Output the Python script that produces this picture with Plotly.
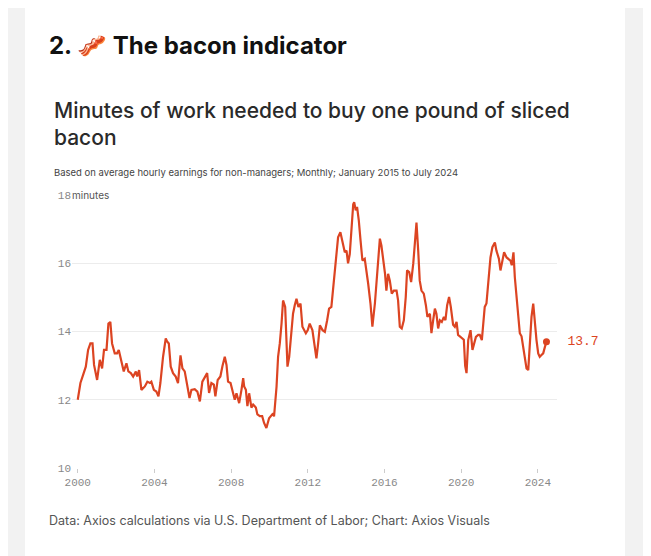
import plotly.graph_objects as go

# years since 2000 (decimal) and minutes of work for one pound of bacon
years_offset = [
    0.00, 0.14, 0.28, 0.42, 0.54, 0.66, 0.77, 0.85, 1.01, 1.15, 1.27, 1.37, 1.50, 1.60, 1.70, 1.79,
    1.93, 2.05, 2.14, 2.24, 2.40, 2.54, 2.64, 2.77, 2.89, 3.03, 3.10, 3.20, 3.32, 3.50, 3.63, 3.76,
    3.84, 3.97, 4.10, 4.21, 4.31, 4.45, 4.59, 4.66, 4.75, 4.85, 4.97, 5.11, 5.23, 5.36, 5.46, 5.58,
    5.70, 5.83, 5.93, 6.10, 6.24, 6.37, 6.50, 6.64, 6.75, 6.85, 6.97, 7.10, 7.18, 7.30, 7.44, 7.55,
    7.67, 7.76, 7.84, 7.97, 8.07, 8.19, 8.28, 8.42, 8.54, 8.63, 8.68, 8.77, 8.85, 8.94, 9.06, 9.15,
    9.29, 9.37, 9.50, 9.62, 9.72, 9.84, 9.98, 10.10, 10.19, 10.24, 10.37, 10.45, 10.54, 10.63, 10.71,
    10.82, 10.94, 11.03, 11.15, 11.23, 11.32, 11.41, 11.51, 11.62, 11.72, 11.81, 11.90,
    12.00, 12.10, 12.24, 12.37, 12.45, 12.54, 12.63, 12.77, 12.89, 13.01, 13.11, 13.23, 13.32, 13.46,
    13.58, 13.70, 13.84, 13.93, 14.02, 14.10, 14.19, 14.28, 14.37, 14.42, 14.50, 14.57, 14.66, 14.75,
    14.85, 14.97, 15.06, 15.15, 15.27, 15.37, 15.50, 15.58, 15.69, 15.76, 15.84, 15.93, 16.03, 16.10,
    16.19, 16.28, 16.38, 16.49, 16.63, 16.71, 16.80, 16.90, 17.01, 17.11, 17.18, 17.29, 17.39, 17.50,
    17.60, 17.67, 17.76, 17.84, 17.93, 18.05, 18.16, 18.24, 18.37, 18.45, 18.54, 18.63, 18.71, 18.80,
    18.89, 18.99, 19.10, 19.18, 19.27, 19.37, 19.46, 19.58, 19.67, 19.76, 19.84, 19.93, 20.07, 20.14,
    20.21, 20.28, 20.37, 20.49, 20.59, 20.68, 20.77, 20.89, 20.97, 21.08, 21.15, 21.23, 21.32, 21.43,
    21.53, 21.63, 21.76, 21.84, 21.97, 22.05, 22.16, 22.24, 22.37, 22.47, 22.57, 22.64, 22.73, 22.80,
    22.89, 22.97, 23.06, 23.15, 23.23, 23.32, 23.41, 23.50, 23.58, 23.67, 23.76, 23.84, 23.93, 24.02,
    24.10, 24.19, 24.28, 24.37, 24.45,
]
minutes = [
    12.00, 12.49, 12.73, 12.97, 13.46, 13.65, 13.65, 13.02, 12.58, 13.17, 12.92, 13.46, 13.46, 14.23, 14.28, 13.65,
    13.36, 13.36, 13.46, 13.21, 12.83, 13.07, 12.83, 12.78, 12.68, 12.83, 12.68, 12.87, 12.29, 12.39, 12.53, 12.49,
    12.53, 12.29, 12.24, 12.10, 12.49, 13.26, 13.80, 13.71, 13.65, 12.97, 12.78, 12.68, 12.49, 13.30, 12.92, 12.83,
    12.49, 12.05, 12.29, 12.31, 12.24, 11.95, 12.53, 12.68, 12.78, 12.20, 12.49, 12.44, 12.10, 12.58, 12.68, 12.99,
    13.26, 13.02, 12.53, 12.49, 12.24, 12.00, 12.19, 11.90, 12.29, 12.63, 12.39, 12.29, 11.81, 12.19, 11.77, 11.86,
    11.77, 11.57, 11.52, 11.52, 11.32, 11.17, 11.46, 11.55, 11.60, 11.51, 12.38, 13.26, 13.65, 14.23, 14.91,
    14.72, 12.97, 13.26, 14.04, 14.52, 14.77, 14.96, 14.72, 14.82, 14.14, 14.04, 13.95,
    14.04, 14.23, 14.04, 13.46, 13.21, 13.65, 14.18, 14.04, 13.99, 14.33, 14.67, 14.72, 15.20, 16.00,
    16.76, 16.91, 16.56, 16.32, 16.37, 16.00, 16.27, 16.95, 17.73, 17.79, 17.55, 17.65, 17.26, 16.68,
    16.08, 16.13, 15.79, 15.40, 14.82, 14.14, 14.82, 15.40, 16.27, 16.72, 16.52, 16.17, 15.69, 15.20,
    15.69, 15.49, 15.11, 15.20, 15.20, 14.91, 14.14, 14.09, 14.33, 15.01, 15.79, 15.74, 15.45, 15.98,
    16.85, 17.19, 16.37, 15.49, 15.20, 15.11, 14.77, 14.43, 14.52, 13.95, 14.33, 14.67, 14.52, 14.09,
    14.33, 14.28, 14.43, 14.33, 14.77, 15.01, 14.72, 14.20, 14.14, 14.28, 13.90, 13.86, 13.81, 13.76,
    12.99, 12.78, 13.75, 14.04, 13.46, 13.65, 13.84, 13.90, 13.90, 13.75, 14.23, 14.72, 14.82, 15.49,
    16.17, 16.47, 16.61, 16.37, 16.13, 15.79, 16.08, 16.32, 16.17, 16.13, 16.08, 15.94, 16.32, 15.59,
    15.01, 14.52, 13.95, 13.86, 13.57, 13.26, 12.92, 12.87, 13.75, 14.43, 14.82, 14.23, 13.75, 13.36,
    13.26, 13.31, 13.36, 13.55, 13.70,
]
year = [2000 + o for o in years_offset]
x_ticks = [2000, 2004, 2008, 2012, 2016, 2020, 2024]
y_ticks = [10, 12, 14, 16, 18]

red = "#dc4422"
mono = "Liberation Mono, Courier New, monospace"
sans = "Inter, Roboto, sans-serif"

# the page adds an 8px body margin, so shift everything up/left by that
OFF = 8
L, R, T, B = 72 - OFF, 94 + OFF, 195 - OFF, 88 + OFF

fig = go.Figure()
fig.add_trace(go.Scatter(x=year, y=minutes, mode="lines",
                         line=dict(color=red, width=2.2), hoverinfo="skip"))
fig.add_trace(go.Scatter(x=[year[-1]], y=[minutes[-1]], mode="markers+text",
                         marker=dict(color=red, size=7), cliponaxis=False,
                         text=["  %.1f" % minutes[-1]], textposition="middle right",
                         textfont=dict(family=mono, size=13, color=red)))

fig.update_layout(
    width=651, height=556, showlegend=False,
    paper_bgcolor="#f2f2f2", plot_bgcolor="white",
    margin=dict(l=L, r=R, t=T, b=B),
    xaxis=dict(range=[1999.7, 2025], tickvals=x_ticks, showgrid=False, zeroline=False,
               ticks="outside", ticklen=4, tickcolor="#cccccc",
               tickfont=dict(family=mono, size=11, color="#888888")),
    yaxis=dict(range=[10, 18], tickvals=y_ticks, gridcolor="#ececec", zeroline=False,
               tickfont=dict(family=mono, size=11, color="#888888")),
)

pw, ph = 651 - L - R, 556 - T - B
# card background
fig.add_shape(type="rect", xref="paper", yref="paper", layer="below",
              x0=(25 - OFF - L) / pw, x1=(625 - OFF - L) / pw, y0=-2, y1=3,
              fillcolor="white", line=dict(width=0))

texts = [
    ("<b>2. 🥓 The bacon indicator</b>", 47, 45, dict(size=24, color="#111111")),
    ("Minutes of work needed to buy one pound of sliced<br>bacon", 52, 124,
     dict(size=21, color="#2a2a2a", weight=500)),
    ("Based on average hourly earnings for non-managers; Monthly; January 2015 to July 2024", 52, 172,
     dict(size=9.5, color="#444444")),
    ("minutes", 70, 195, dict(size=10, color="#555555")),
    ("Data: Axios calculations via U.S. Department of Labor; Chart: Axios Visuals", 47, 520,
     dict(size=12.5, color="#555555")),
]
for txt, px, py, st in texts:
    fig.add_annotation(text=txt, xref="paper", yref="paper",
                       x=(px - OFF - L) / pw, y=(556 - B - (py - OFF)) / ph,
                       xanchor="left", yanchor="middle", showarrow=False, align="left",
                       font=dict(family=sans, **st))

fig.write_html("out.html")
